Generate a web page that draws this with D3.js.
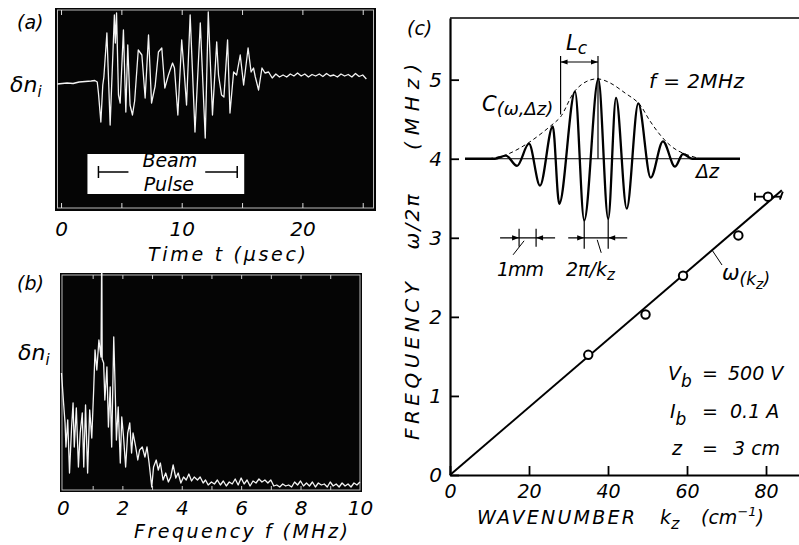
<!DOCTYPE html>
<html>
<head>
<meta charset="utf-8">
<script src="https://cdn.jsdelivr.net/npm/d3@7"></script>
<style>
body { margin: 0; background: #fff; }
text { font-family: "DejaVu Sans", sans-serif; font-style: italic; fill: #000; }
</style>
</head>
<body>
<div id="chart"></div>
<script>
// (a) ion density signal vs time (usec)
var pulseT = [-0.3,0.5,1.0,1.5,2.0,2.5,2.8,3.0,3.1,3.3,
  3.46,3.55,3.8,4.07,4.42,4.5,4.6,4.76,4.9,5.17,5.37,
  5.53,5.72,5.92,6.1,6.4,6.7,6.97,7.25,7.5,7.8,
  8.07,8.35,8.6,8.9,9.24,9.4,9.68,10.0,10.2,10.4,
  10.7,11.1,11.54,11.95,12.2,12.55,12.9,13.05,13.3,13.5,
  13.8,14.0,14.3,14.55,14.85,15.13,15.5,15.75,15.95,16.1,
  16.37,16.65,16.9,17.2,17.5,17.8,18.1,18.4,18.7,19.0,
  19.3,19.6,19.9,20.2,20.5,20.8,21.1,21.4,21.7,22.0,
  22.3,22.6,22.9,23.2,23.5,23.8,24.1,24.4,24.7,25.0,25.3];
var pulseV = [-0.1,0.0,-0.05,0.1,0.15,0.2,0.25,0.1,-1.0,-3.9,
  -0.2,0.6,5.0,-4.2,6.8,4.0,7.0,-1.2,-2.0,5.3,-2.9,
  3.8,-2.2,-3.2,-1.8,3.3,2.8,-1.5,4.8,-2.0,-0.3,
  3.1,3.5,-0.5,0.8,2.0,1.5,-3.2,4.3,1.2,-2.2,
  6.8,-4.9,6.0,-5.5,7.1,-3.2,4.1,0.8,-1.2,-1.4,
  4.3,-3.0,1.1,0.8,2.8,-0.2,3.5,1.1,1.5,0.6,
  -0.7,1.5,1.0,1.1,0.5,0.9,0.6,0.8,0.6,0.9,
  0.7,1.0,0.7,0.9,0.6,0.85,0.7,0.9,0.65,0.95,
  0.7,0.8,0.6,0.9,0.7,0.85,0.6,0.95,0.65,0.8,0.4];
var beamT = [3.1, 14.6];
var ticksA = [0, 10, 20];
var gridA = [0, 5, 10, 15, 20, 25];

// (b) spectrum vs frequency (MHz)
var specF = [-0.05,0.02,0.07,0.1,0.16,0.22,0.29,0.34,0.38,0.45,0.52,0.58,0.65,0.7,0.76,0.83,0.9,0.97,
  1.03,1.08,1.14,1.21,1.28,1.3,1.31,1.32,1.37,1.41,1.48,1.53,1.59,1.64,1.71,1.75,1.8,1.86,1.93,1.98,
  2.04,2.11,2.18,2.25,2.31,2.36,2.45,2.52,2.58,2.67,2.76,2.83,2.9,2.99,
  3.05,3.14,3.21,3.28,3.37,3.46,3.55,3.63,3.71,3.8,3.88,3.97,
  4.06,4.15,4.24,4.33,4.42,4.53,4.62,4.72,4.8,4.89,5.0,
  5.1,5.2,5.3,5.4,5.5,5.6,5.7,5.8,5.9,6.0,
  6.1,6.2,6.3,6.4,6.5,6.6,6.7,6.8,6.9,7.0,
  7.1,7.2,7.3,7.4,7.5,7.6,7.7,7.8,7.9,8.0,
  8.1,8.2,8.3,8.4,8.5,8.6,8.7,8.8,8.9,9.0,
  9.1,9.2,9.3,9.4,9.5,9.6,9.7,9.8,9.9,10.0];
var specV = [11.6,8.6,6.6,4.2,6.9,1.6,6.2,8.6,4.2,8.1,2.2,5.6,7.6,2.2,8.4,1.6,7.9,5.1,
  9.6,13.9,11.9,14.9,13.2,21.6,21.6,13.0,12.6,8.9,12.2,6.2,10.2,4.2,15.2,10.9,4.9,8.2,2.6,7.2,
  5.2,2.2,5.6,6.6,3.6,5.6,4.2,2.9,3.9,4.2,3.2,4.2,2.6,0.2,
  2.2,2.9,1.9,2.6,0.9,1.6,0.7,1.2,2.4,1.1,1.6,0.6,
  1.2,0.9,1.5,0.8,1.2,0.9,1.2,0.6,0.9,0.4,0.7,
  0.5,0.9,0.4,0.8,0.3,0.7,0.5,1.0,0.4,1.1,
  0.5,0.9,0.3,0.8,0.6,1.0,0.7,0.9,0.6,0.9,
  0.3,0.4,0.2,0.5,0.3,0.4,0.2,0.7,0.4,0.8,
  0.3,0.6,0.3,0.7,0.2,0.6,0.4,0.5,0.2,0.7,
  0.3,0.5,0.2,0.6,0.3,0.5,0.2,0.6,0.4,0.7];
var ticksB = [0, 2, 4, 6, 8, 10];
var gridB = [1, 2, 3, 4, 5, 6, 7, 8, 9];

// (c) dispersion: measured points and fitted line
var kz = [35, 49.5, 59, 73, 80.5];
var omega = [1.52, 2.03, 2.52, 3.03, 3.52];
var kzErr = [77.2, 84];
var fitK = [0, 84], fitW = [0, 3.6];
var ticksKx = [0, 20, 40, 60, 80];
var ticksKy = [0, 1, 2, 3, 4, 5];

// inset: correlation C(w, dz), dz in mm
var corrZ = [-7.82,-6.06,-5.41,-4.76,-4.06,-3.41,-2.66,-2.28,-1.35,-0.81,0.02,0.6,1.06,1.69,2.37,3.1,3.82,4.53,5.0,5.53,8.35];
var corrC = [0,0,0.04,-0.09,0.19,-0.34,0.41,-0.57,0.85,-0.78,1.01,-0.76,0.77,-0.63,0.7,-0.24,0.22,-0.1,0.06,0,0];
var envZ = [-6.4,-5.4,-4.1,-2.7,-2.2,-1.35,-0.65,0,0.7,1.6,2.4,3.05,3.7,4.35,5.0,6.0];
var envC = [0,0.05,0.2,0.43,0.53,0.86,0.98,1.01,0.96,0.83,0.7,0.48,0.29,0.15,0.07,0];
var lcZ = [-2.2, 0];
var mmZ = [-4.64, -3.64];
var lamZ = [-0.81, 0.6];

var svg = d3.select("#chart").append("svg")
    .attr("width", 799)
    .attr("height", 545);

function sub(t, main, s, fs, dy) {
    t.text(main);
    t.append("tspan").attr("dy", dy).style("font-size", fs + "px").text(s);
    return t;
}

function arrow(x, y, dir) {
    svg.append("path")
        .attr("d", "M" + x + "," + y + "l" + (-7 * dir) + ",-2.6l0,5.2z")
        .attr("fill", "#000");
}

function line(x1, y1, x2, y2, w) {
    svg.append("line")
        .attr("x1", x1).attr("y1", y1).attr("x2", x2).attr("y2", y2)
        .attr("stroke", "#000").attr("stroke-width", w || 1.2);
}

function tickText(g, fs) {
    g.selectAll("text").style("font-size", fs + "px")
        .style("font-family", "DejaVu Sans").style("font-style", "italic");
}

// ---------------- panel (a) ----------------
var xA = d3.scaleLinear().domain([-0.5, 26.1]).range([55, 376]);
var yA = d3.scaleLinear().domain([-12.8, 7.5]).range([211, 8]);

svg.append("rect")
    .attr("x", 55).attr("y", 8).attr("width", 321).attr("height", 203)
    .attr("fill", "#050505");
svg.append("rect")
    .attr("x", 57.5).attr("y", 10).attr("width", 316).attr("height", 198)
    .attr("fill", "none").attr("stroke", "#bbb").attr("stroke-width", 1);

svg.append("g").attr("transform", "translate(0,10)")
    .call(d3.axisBottom(xA).tickValues(gridA).tickSize(5).tickFormat(""))
    .call(function(g) { g.select(".domain").remove(); g.selectAll("line").attr("stroke", "#ddd"); });
svg.append("g").attr("transform", "translate(0,208)")
    .call(d3.axisTop(xA).tickValues(gridA).tickSize(5).tickFormat(""))
    .call(function(g) { g.select(".domain").remove(); g.selectAll("line").attr("stroke", "#ddd"); });

svg.append("path")
    .attr("d", d3.line()
        .x(function(i) { return xA(pulseT[i]); })
        .y(function(i) { return yA(pulseV[i]); })(d3.range(pulseT.length)))
    .attr("fill", "none").attr("stroke", "#f4f4f4").attr("stroke-width", 1.3)
    .attr("stroke-linejoin", "round");

// beam pulse box
var bx0 = xA(beamT[0]), bx1 = xA(beamT[1]);
svg.append("rect")
    .attr("x", bx0 - 11).attr("y", 154).attr("width", bx1 - bx0 + 18).attr("height", 40)
    .attr("fill", "#fff");
line(bx0, 172, bx0 + 30, 172, 1.5);
line(bx0, 166, bx0, 178, 1.5);
line(bx1 - 32, 172, bx1, 172, 1.5);
line(bx1, 166, bx1, 178, 1.5);
svg.append("text").attr("x", (bx0 + bx1) / 2 + 2).attr("y", 167)
    .attr("text-anchor", "middle").style("font-size", "19px").text("Beam");
svg.append("text").attr("x", (bx0 + bx1) / 2 + 1).attr("y", 191)
    .attr("text-anchor", "middle").style("font-size", "19px").text("Pulse");

svg.append("g").attr("transform", "translate(0,211)")
    .call(d3.axisBottom(xA).tickValues(ticksA).tickSize(0).tickPadding(11))
    .call(function(g) { g.select(".domain").remove(); tickText(g, 20); });

svg.append("text").attr("x", 17).attr("y", 29).style("font-size", "19px").text("(a)");
sub(svg.append("text").attr("x", 10).attr("y", 92).style("font-size", "22px"), "δn", "i", 15, 5);
svg.append("text").attr("x", 148).attr("y", 261).style("font-size", "19px")
    .attr("textLength", 158).attr("lengthAdjust", "spacing").text("Time t (µsec)");

// ---------------- panel (b) ----------------
var xB = d3.scaleLinear().domain([-0.1, 10.07]).range([60, 362]);
var yB = d3.scaleLinear().domain([-0.3, 21.6]).range([492, 273]);

svg.append("rect")
    .attr("x", 60).attr("y", 273).attr("width", 302).attr("height", 219)
    .attr("fill", "#050505");
svg.append("rect")
    .attr("x", 62).attr("y", 275).attr("width", 298).attr("height", 215)
    .attr("fill", "none").attr("stroke", "#bbb").attr("stroke-width", 1);

svg.append("g").attr("transform", "translate(0,275)")
    .call(d3.axisBottom(xB).tickValues(gridB).tickSize(4).tickFormat(""))
    .call(function(g) { g.select(".domain").remove(); g.selectAll("line").attr("stroke", "#ccc"); });
svg.append("g").attr("transform", "translate(0,490)")
    .call(d3.axisTop(xB).tickValues(gridB).tickSize(4).tickFormat(""))
    .call(function(g) { g.select(".domain").remove(); g.selectAll("line").attr("stroke", "#ccc"); });

svg.append("path")
    .attr("d", d3.line()
        .x(function(i) { return xB(specF[i]); })
        .y(function(i) { return yB(specV[i]); })(d3.range(specF.length)))
    .attr("fill", "none").attr("stroke", "#f4f4f4").attr("stroke-width", 1.3)
    .attr("stroke-linejoin", "round");

svg.append("g").attr("transform", "translate(0,492)")
    .call(d3.axisBottom(xB).tickValues(ticksB).tickSize(0).tickPadding(9))
    .call(function(g) { g.select(".domain").remove(); tickText(g, 20); });

svg.append("text").attr("x", 17).attr("y", 290).style("font-size", "19px").text("(b)");
sub(svg.append("text").attr("x", 18).attr("y", 360).style("font-size", "22px"), "δn", "i", 15, 5);
svg.append("text").attr("x", 134).attr("y", 538).style("font-size", "19px")
    .attr("textLength", 214).attr("lengthAdjust", "spacing").text("Frequency f (MHz)");

// ---------------- panel (c) ----------------
var xC = d3.scaleLinear().domain([0, 88.35]).range([450, 799]);
var yC = d3.scaleLinear().domain([0, 5.78]).range([475, 18]);

line(xC(0), yC(5.78), xC(88.35), yC(5.78), 1.5);

svg.append("g").attr("transform", "translate(0," + yC(0) + ")")
    .call(d3.axisBottom(xC).tickValues(ticksKx).tickFormat(d3.format("d"))
        .tickSize(-9).tickSizeOuter(0).tickPadding(10))
    .call(function(g) {
        g.select(".domain").attr("stroke-width", 2.2);
        g.selectAll("line").attr("stroke-width", 1.8);
        tickText(g, 19);
    });
svg.append("g").attr("transform", "translate(" + xC(0) + ",0)")
    .call(d3.axisLeft(yC).tickValues(ticksKy).tickFormat(d3.format("d"))
        .tickSize(-9).tickSizeOuter(0).tickPadding(8))
    .call(function(g) {
        g.select(".domain").attr("stroke-width", 2.2);
        g.selectAll("line").attr("stroke-width", 1.8);
        tickText(g, 20);
    });

// fitted dispersion line
svg.append("path")
    .attr("d", d3.line()
        .x(function(i) { return xC(fitK[i]); })
        .y(function(i) { return yC(fitW[i]); })(d3.range(fitK.length)))
    .attr("stroke", "#000").attr("stroke-width", 2);

// error bar on last point
var ye = yC(omega[omega.length - 1]);
line(xC(kzErr[0]), ye, xC(kzErr[1]), ye, 1.8);
line(xC(kzErr[0]), ye - 4, xC(kzErr[0]), ye + 4, 1.8);
line(xC(kzErr[1]) - 2, ye + 3, xC(kzErr[1]) + 1, ye - 5, 1.8);

svg.selectAll(".pt").data(kz).enter().append("circle")
    .attr("class", "pt")
    .attr("cx", function(d) { return xC(d); })
    .attr("cy", function(d, i) { return yC(omega[i]); })
    .attr("r", 4.2)
    .attr("fill", "#fff").attr("stroke", "#000").attr("stroke-width", 2);

// inset correlation
var zX = d3.scaleLinear().domain([-7.82, 8.35]).range([465, 740]);
var cY = d3.scaleLinear().domain([0, 1]).range([yC(4), yC(5)]);

line(zX(-7.82), cY(0), zX(8.35), cY(0), 1);

svg.append("path")
    .attr("d", d3.line().curve(d3.curveCatmullRom)
        .x(function(i) { return zX(envZ[i]); })
        .y(function(i) { return cY(envC[i]); })(d3.range(envZ.length)))
    .attr("fill", "none").attr("stroke", "#000").attr("stroke-width", 1)
    .attr("stroke-dasharray", "4,3");

svg.append("path")
    .attr("d", d3.line().curve(d3.curveMonotoneX)
        .x(function(i) { return zX(corrZ[i]); })
        .y(function(i) { return cY(corrC[i]); })(d3.range(corrZ.length)))
    .attr("fill", "none").attr("stroke", "#000").attr("stroke-width", 2.3)
    .attr("stroke-linejoin", "round");

// L_c marker
var lx0 = zX(lcZ[0]), lx1 = zX(lcZ[1]);
line(lx0, 56, lx0, cY(0.56), 1.2);
line(lx1, 56, lx1, cY(0), 1.2);
line(lx0, 62, lx1, 62, 1.2);
arrow(lx0, 62, -1);
arrow(lx1, 62, 1);
sub(svg.append("text").attr("x", 566).attr("y", 50).style("font-size", "21px"), "L", "c", 17, 4);

// 1 mm marker
var my = cY(-1);
var m0 = zX(mmZ[0]), m1 = zX(mmZ[1]);
line(m0 - 19, my, m1 + 19, my, 1.2);
line(m0, my - 9, m0, my + 9, 1.2);
line(m1, my - 9, m1, my + 9, 1.2);
arrow(m0, my, 1);
arrow(m1, my, -1);
line(m0 - 6, my + 17, m0 + 5, my + 3, 1);
svg.append("text").attr("x", 497).attr("y", 276).style("font-size", "19px")
    .attr("textLength", 47).attr("lengthAdjust", "spacing").text("1mm");

// 2pi/kz marker
var w0 = zX(lamZ[0]), w1 = zX(lamZ[1]);
line(w0 - 16, my, w1 + 19, my, 1.2);
line(w0, cY(-0.78), w0, my + 11, 1.2);
line(w1, cY(-0.76), w1, my + 11, 1.2);
arrow(w0, my, 1);
arrow(w1, my, -1);
line(w0 + 13, my + 2, w0 + 17, my + 15, 1);
sub(svg.append("text").attr("x", 566).attr("y", 276).style("font-size", "19px"), "2π/k", "z", 15, 4);

// labels
svg.append("text").attr("x", 407).attr("y", 35).style("font-size", "19px").text("(c)");
sub(svg.append("text").attr("x", 482).attr("y", 111).style("font-size", "21px"), "C", "(ω,Δz)", 18, 4);
svg.append("text").attr("x", 649).attr("y", 88).style("font-size", "20px")
    .attr("textLength", 95).attr("lengthAdjust", "spacing").text("f = 2MHz");
svg.append("text").attr("x", 696).attr("y", 178).style("font-size", "19px").text("Δz");

line(712, 250, 722, 265, 1);
var wk = svg.append("text").attr("x", 722).attr("y", 280).style("font-size", "21px").text("ω");
wk.append("tspan").attr("dy", 5).style("font-size", "17px").text("(k");
wk.append("tspan").attr("dy", 4).style("font-size", "14px").text("z");
wk.append("tspan").attr("dy", -4).style("font-size", "17px").text(")");

sub(svg.append("text").attr("x", 668).attr("y", 380).style("font-size", "19px"), "V", "b", 17, 7);
svg.append("text").attr("x", 702).attr("y", 380).style("font-size", "19px").text("=");
svg.append("text").attr("x", 728).attr("y", 380).style("font-size", "19px").text("500 V");
sub(svg.append("text").attr("x", 670).attr("y", 418).style("font-size", "19px"), "I", "b", 17, 7);
svg.append("text").attr("x", 702).attr("y", 418).style("font-size", "19px").text("=");
svg.append("text").attr("x", 730).attr("y", 418).style("font-size", "19px").text("0.1 A");
svg.append("text").attr("x", 672).attr("y", 455).style("font-size", "19px").text("z");
svg.append("text").attr("x", 702).attr("y", 455).style("font-size", "19px").text("=");
svg.append("text").attr("x", 733).attr("y", 455).style("font-size", "19px").text("3 cm");

// axis titles
svg.append("text").attr("x", 477).attr("y", 524).style("font-size", "19px")
    .attr("textLength", 158).attr("lengthAdjust", "spacing").text("WAVENUMBER");
sub(svg.append("text").attr("x", 660).attr("y", 524).style("font-size", "19px"), "k", "z", 16, 5);
var cm = svg.append("text").attr("x", 701).attr("y", 524).style("font-size", "19px").text("(cm");
cm.append("tspan").attr("dy", -8).style("font-size", "13px").text("−1");
cm.append("tspan").attr("dy", 8).text(")");

[["FREQUENCY", 361, 158], ["ω/2π", 222, 55], ["(MHz)", 107, 86]].forEach(function(d) {
    svg.append("text")
        .attr("transform", "translate(419," + d[1] + ") rotate(-90)")
        .attr("text-anchor", "middle")
        .style("font-size", "20px")
        .attr("textLength", d[2]).attr("lengthAdjust", "spacing")
        .text(d[0]);
});
</script>
</body>
</html>
